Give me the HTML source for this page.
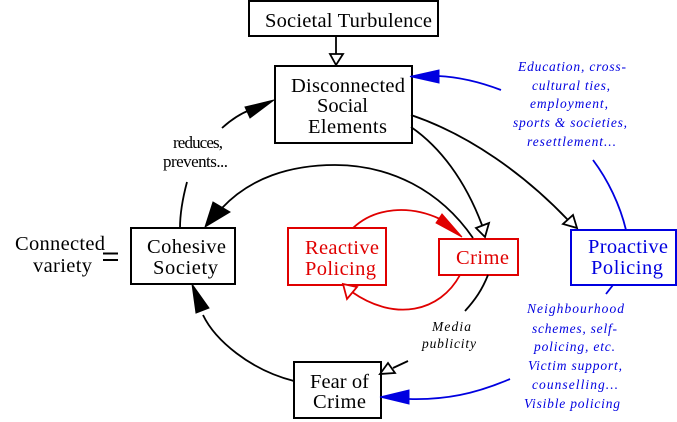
<!DOCTYPE html>
<html><head><meta charset="utf-8">
<style>
html,body{margin:0;padding:0;background:#fff}
svg{display:block}
text{font-family:"Liberation Serif",serif;font-size:20.5px}
.i{font-style:italic;font-size:13.5px}
.b{fill:#0000e0}.r{fill:#e00000}
</style></head><body>
<svg width="677" height="422" viewBox="0 0 677 422" xmlns="http://www.w3.org/2000/svg">
<rect width="677" height="422" fill="#fff"/>
<g fill="none" stroke="#000" stroke-width="2">
<rect x="249" y="1" width="189" height="35"/>
<rect x="275" y="66" width="137" height="77"/>
<rect x="131" y="228" width="104" height="56"/>
<rect x="294" y="362" width="87" height="56"/>
</g>
<g fill="none" stroke="#e00000" stroke-width="2">
<rect x="288" y="228" width="98" height="57"/>
<rect x="439" y="239" width="79" height="36"/>
</g>
<rect x="571" y="230" width="105" height="55" fill="none" stroke="#0000e0" stroke-width="2"/>

<g fill="none" stroke="#000" stroke-width="1.8">
<path d="M336 36V54"/>
<path d="M411 127C440 147 465 180 482 225"/>
<path d="M411 115C470 135 525 175 568 220"/>
<path d="M473 238C440 190 390 165 335 165C290 165 250 178 222 208"/>
<path d="M180 228C180 212 183 197 187 182"/>
<path d="M222 128C232 119 242 113 250 110"/>
<path d="M294 381C250 370 215 340 203 315"/>
<path d="M488 275C482 290 475 300 465 311"/>
<path d="M408 361L393 368"/>
</g>
<g fill="none" stroke="#e00000" stroke-width="1.8">
<path d="M353 228C375 207 410 205 440 219"/>
<path d="M460 275C440 312 395 322 352 292"/>
</g>
<g fill="none" stroke="#0000e0" stroke-width="1.8">
<path d="M501 90C480 82 460 77 438 76"/>
<path d="M593 160C608 180 620 205 626 230"/>
<path d="M613 285L606 294"/>
<path d="M510 379C475 394 445 400 409 399"/>
</g>

<g fill="#fff" stroke="#000" stroke-width="1.8">
<path d="M336 65L330 54H343Z"/>
<path d="M485 237L476 228L489 223Z"/>
<path d="M577 228L563 224L573 215Z"/>
<path d="M380 374L388 363L395 373Z"/>
</g>
<g fill="#000" stroke="#000" stroke-width="1">
<path d="M274 100L245 107L250 118Z"/>
<path d="M205 227L213 202L230 212Z"/>
<path d="M192 284L196 313L209 308Z"/>
</g>
<path d="M462 237L442 214L436 223Z" fill="#e00000" stroke="#e00000"/>
<path d="M343 284L357 287L347 299Z" fill="#fff" stroke="#e00000" stroke-width="1.8"/>
<path d="M410 76.500L439 70V83Z" fill="#0000e0" stroke="#0000e0"/>
<path d="M380 397L409 390V404Z" fill="#0000e0" stroke="#0000e0"/>

<path d="M103 253.500H118M103 260H118" fill="none" stroke="#000" stroke-width="2"/>

<text x="265" y="27" textLength="167" lengthAdjust="spacing">Societal Turbulence</text>
<text x="291" y="92" textLength="114" lengthAdjust="spacing">Disconnected</text>
<text x="317" y="112" textLength="51" lengthAdjust="spacing">Social</text>
<text x="308" y="133" textLength="79" lengthAdjust="spacing">Elements</text>
<text x="15" y="250" textLength="90" lengthAdjust="spacing">Connected</text>
<text x="33" y="272" textLength="59" lengthAdjust="spacing">variety</text>
<text x="147" y="253" textLength="79" lengthAdjust="spacing">Cohesive</text>
<text x="153" y="274" textLength="65" lengthAdjust="spacing">Society</text>
<text x="310" y="388" textLength="59" lengthAdjust="spacing">Fear of</text>
<text x="313" y="408" textLength="53" lengthAdjust="spacing">Crime</text>
<text x="173" y="148" textLength="50" lengthAdjust="spacing" style="font-size:17px">reduces,</text>
<text x="163" y="167" textLength="65" lengthAdjust="spacing" style="font-size:17px">prevents...</text>
<text x="432" y="331" textLength="39" lengthAdjust="spacing" class="i">Media</text>
<text x="422" y="348" textLength="54" lengthAdjust="spacing" class="i">publicity</text>

<text class="r" x="305" y="254" textLength="74" lengthAdjust="spacing">Reactive</text>
<text class="r" x="305" y="275" textLength="71" lengthAdjust="spacing">Policing</text>
<text class="r" x="456" y="264" textLength="53" lengthAdjust="spacing">Crime</text>

<text class="b" x="588" y="253" textLength="80" lengthAdjust="spacing">Proactive</text>
<text class="b" x="591" y="274" textLength="72" lengthAdjust="spacing">Policing</text>

<text class="i b" x="518" y="71" textLength="108" lengthAdjust="spacing">Education, cross-</text>
<text class="i b" x="532" y="90" textLength="78" lengthAdjust="spacing">cultural ties,</text>
<text class="i b" x="530" y="108" textLength="78" lengthAdjust="spacing">employment,</text>
<text class="i b" x="513" y="127" textLength="114" lengthAdjust="spacing">sports &amp; societies,</text>
<text class="i b" x="527" y="146" textLength="89" lengthAdjust="spacing">resettlement...</text>

<text class="i b" x="527" y="313" textLength="97" lengthAdjust="spacing">Neighbourhood</text>
<text class="i b" x="532" y="333" textLength="85" lengthAdjust="spacing">schemes, self-</text>
<text class="i b" x="534" y="351" textLength="81" lengthAdjust="spacing">policing, etc.</text>
<text class="i b" x="528" y="370" textLength="94" lengthAdjust="spacing">Victim support,</text>
<text class="i b" x="532" y="389" textLength="86" lengthAdjust="spacing">counselling...</text>
<text class="i b" x="524" y="408" textLength="96" lengthAdjust="spacing">Visible policing</text>
</svg>
</body></html>
